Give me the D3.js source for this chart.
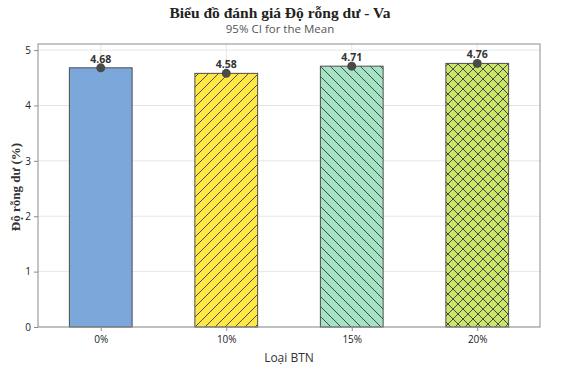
<!DOCTYPE html>
<html>
<head>
<meta charset="utf-8">
<script src="https://cdn.jsdelivr.net/npm/d3@7"></script>
<style>
  body { margin: 0; background: #fff; }
  svg { display: block; }
</style>
</head>
<body>
<svg></svg>
<script>
// data
var categories = ["0%", "10%", "15%", "20%"];
var means = [4.68, 4.58, 4.71, 4.76];
var yTicks = [0, 1, 2, 3, 4, 5];
var barColors = ["#7ba7da", "#ffe844", "#a4e4c4", "#c9e66b"];
var barPatterns = ["none", "fwd", "back", "cross"];

var W = 561, H = 376;
var margin = {top: 44, right: 21, bottom: 49, left: 38},
    width = W - margin.left - margin.right,
    height = H - margin.top - margin.bottom;

var svg = d3.select("svg").attr("width", W).attr("height", H),
    g = svg.append("g").attr("transform", "translate(" + margin.left + "," + margin.top + ")");

var x = d3.scaleBand().domain(categories).range([0, width]).paddingInner(0.5).paddingOuter(0.25);
var xc = d3.scalePoint().domain(categories).range([0, width]).padding(0.5);
var y = d3.scaleLinear().domain([0, 5.11]).range([height, 0]);

// hatch patterns
var defs = svg.append("defs");
function hatch(id, paths, size) {
  var p = defs.append("pattern").attr("id", id)
    .attr("patternUnits", "userSpaceOnUse").attr("width", size).attr("height", size);
  paths.forEach(function(d) {
    p.append("path").attr("d", d).attr("stroke", "#3a3a3a").attr("stroke-width", 0.9).attr("fill", "none");
  });
}
hatch("fwd", ["M0,10 L10,0", "M-2,2 L2,-2", "M8,12 L12,8"], 10);
hatch("back", ["M0,0 L10,10", "M-2,8 L2,12", "M8,-2 L12,2"], 10);
hatch("cross", ["M0,0 L10,10", "M0,10 L10,0", "M-2,8 L2,12", "M8,-2 L12,2", "M-2,2 L2,-2", "M8,12 L12,8"], 10);

// grid
g.selectAll(".hgrid").data(yTicks).enter().append("line")
  .attr("x1", 0).attr("x2", width)
  .attr("y1", function(d) { return y(d); }).attr("y2", function(d) { return y(d); })
  .attr("stroke", "#e6e6e6");
g.selectAll(".vgrid").data(categories).enter().append("line")
  .attr("x1", function(d) { return xc(d); }).attr("x2", function(d) { return xc(d); })
  .attr("y1", 0).attr("y2", height)
  .attr("stroke", "#e6e6e6");

// bars
var bars = g.selectAll(".bar").data(categories).enter().append("g");
bars.append("rect")
  .attr("x", function(d) { return x(d); })
  .attr("width", x.bandwidth())
  .attr("y", function(d, i) { return y(means[i]); })
  .attr("height", function(d, i) { return height - y(means[i]); })
  .attr("fill", function(d, i) { return barColors[i]; });
bars.append("rect")
  .attr("x", function(d) { return x(d); })
  .attr("width", x.bandwidth())
  .attr("y", function(d, i) { return y(means[i]); })
  .attr("height", function(d, i) { return height - y(means[i]); })
  .attr("fill", function(d, i) { return barPatterns[i] == "none" ? "none" : "url(#" + barPatterns[i] + ")"; })
  .attr("stroke", "#4d4d4d")
  .attr("stroke-width", 1);

// plot frame
g.append("rect").attr("width", width).attr("height", height)
  .attr("fill", "none").attr("stroke", "#8c8c8c");

// axes
var yAxis = g.append("g").call(d3.axisLeft(y).tickValues(yTicks).tickSize(4).tickFormat(d3.format("d")));
var xAxis = g.append("g").attr("transform", "translate(0," + height + ")")
  .call(d3.axisBottom(xc).tickSize(4).tickPadding(5));
[xAxis, yAxis].forEach(function(a) {
  a.select(".domain").remove();
  a.selectAll("line").attr("stroke", "#8c8c8c");
  a.selectAll("text").attr("font-family", "'Open Sans', sans-serif").attr("font-size", 10).attr("fill", "#222");
});

// mean points and labels
g.selectAll(".pt").data(categories).enter().append("circle")
  .attr("cx", function(d) { return xc(d); })
  .attr("cy", function(d, i) { return y(means[i]); })
  .attr("r", 4.5)
  .attr("fill", "#4a4a4a");
g.selectAll(".lbl").data(categories).enter().append("text")
  .attr("x", function(d) { return xc(d); })
  .attr("y", function(d, i) { return y(means[i]) - 5; })
  .attr("text-anchor", "middle")
  .attr("font-family", "'Open Sans', sans-serif")
  .attr("font-size", 10.5).attr("font-weight", "bold").attr("fill", "#333")
  .text(function(d, i) { return means[i].toFixed(2); });

// titles
svg.append("text").attr("x", 280).attr("y", 18).attr("text-anchor", "middle")
  .attr("font-family", "'Liberation Serif', serif").attr("font-weight", "bold").attr("font-size", 15.5)
  .attr("fill", "#222").text("Biểu đồ đánh giá Độ rỗng dư - Va");
svg.append("text").attr("x", 280).attr("y", 33).attr("text-anchor", "middle")
  .attr("font-family", "'Open Sans', sans-serif").attr("font-size", 11.5)
  .attr("fill", "#555").text("95% CI for the Mean");
svg.append("text").attr("x", 289).attr("y", 362).attr("text-anchor", "middle")
  .attr("font-family", "'Open Sans', sans-serif").attr("font-size", 12)
  .attr("fill", "#333").text("Loại BTN");
svg.append("text")
  .attr("transform", "translate(20,187) rotate(-90)")
  .attr("text-anchor", "middle")
  .attr("font-family", "'Liberation Serif', serif").attr("font-weight", "bold").attr("font-size", 13)
  .attr("fill", "#333").text("Độ rỗng dư (%)");
</script>
</body>
</html>
